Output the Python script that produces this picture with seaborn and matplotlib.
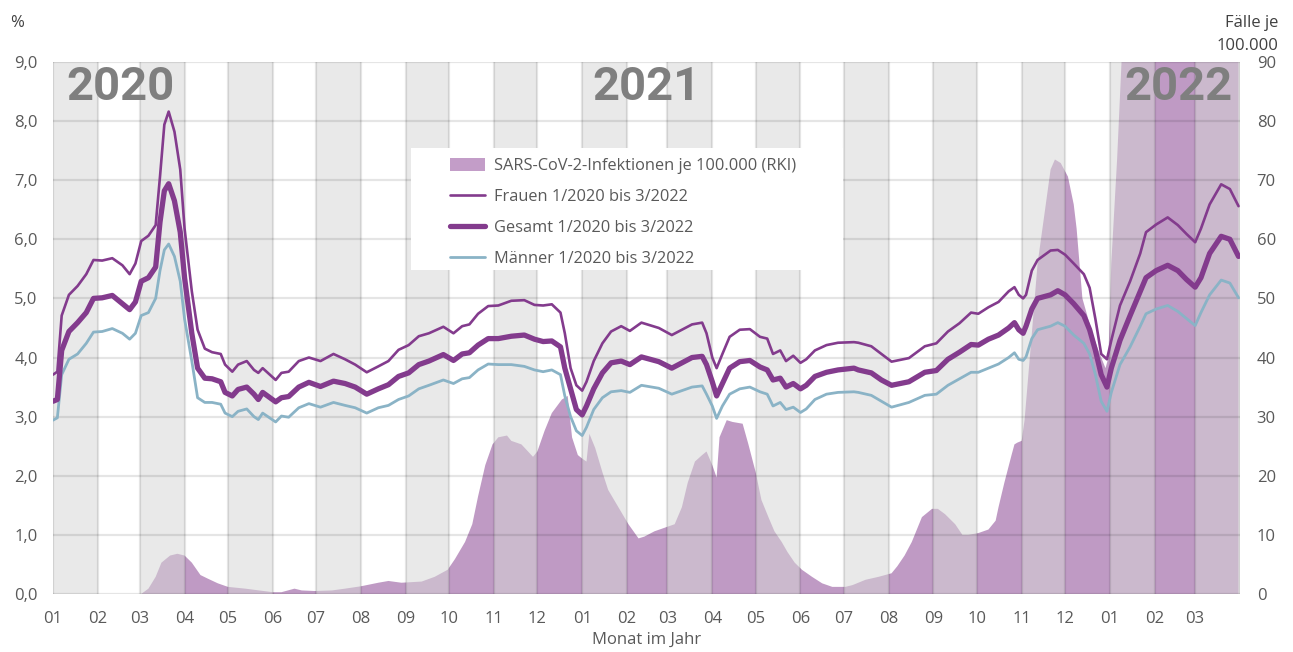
import numpy as np
import pandas as pd
import seaborn as sns
import matplotlib.pyplot as plt
from matplotlib.lines import Line2D
from matplotlib.patches import Patch, Rectangle

# Tage seit 01.01.2020, Anteil in %
tage = [0, 3, 6, 11, 17, 23, 28, 34, 41, 48, 53, 57, 61, 66, 71, 74, 77, 80, 84, 88,
        91, 96, 100, 105, 110, 116, 119, 124, 128, 134, 139, 142, 145, 154, 158, 163, 170, 177, 185, 194,
        202, 209, 217, 225, 232, 239, 246, 253, 260, 270, 277, 283, 288, 294, 301, 308, 317, 326, 333, 339,
        345, 351, 354, 358, 362, 366, 369, 374, 380, 386, 393, 399, 407, 419, 428, 435, 442, 449, 452, 456,
        459, 463, 468, 475, 482, 489, 494, 498, 503, 507, 512, 517, 521, 527, 535, 543, 554, 557, 566, 573,
        580, 592, 603, 611, 619, 627, 635, 640, 647, 654, 661, 665, 668, 671, 673, 677, 681, 690, 695, 700,
        706, 713, 717, 721, 725, 729, 732, 738, 745, 752, 756, 763, 771, 778, 784, 790, 794, 800, 808, 814, 820]

frauen = [3.71, 3.76, 4.71, 5.06, 5.21, 5.41, 5.65, 5.64, 5.68, 5.56, 5.41, 5.59, 5.97, 6.06, 6.24, 7.06, 7.94, 8.16, 7.82, 7.18,
          6.18, 5.12, 4.47, 4.15, 4.09, 4.06, 3.88, 3.76, 3.88, 3.94, 3.79, 3.74, 3.82, 3.62, 3.74, 3.76, 3.94, 4.00, 3.94, 4.06,
          3.97, 3.88, 3.75, 3.85, 3.94, 4.13, 4.21, 4.36, 4.41, 4.52, 4.41, 4.53, 4.56, 4.74, 4.87, 4.88, 4.96, 4.97, 4.89, 4.88,
          4.90, 4.76, 4.41, 3.82, 3.53, 3.44, 3.59, 3.94, 4.24, 4.44, 4.53, 4.45, 4.59, 4.50, 4.38, 4.47, 4.56, 4.59, 4.41, 4.00,
          3.82, 4.06, 4.35, 4.47, 4.48, 4.35, 4.32, 4.06, 4.12, 3.94, 4.03, 3.91, 3.97, 4.12, 4.21, 4.25, 4.26, 4.25, 4.19, 4.06,
          3.93, 3.99, 4.19, 4.24, 4.44, 4.58, 4.76, 4.74, 4.85, 4.94, 5.12, 5.19, 5.06, 5.00, 5.06, 5.47, 5.65, 5.81, 5.82, 5.74,
          5.59, 5.41, 5.18, 4.65, 4.06, 3.97, 4.29, 4.88, 5.29, 5.76, 6.12, 6.25, 6.37, 6.24, 6.09, 5.95, 6.18, 6.59, 6.93, 6.85, 6.56]

gesamt = [3.26, 3.29, 4.12, 4.44, 4.59, 4.76, 5.00, 5.01, 5.05, 4.91, 4.81, 4.94, 5.29, 5.35, 5.53, 6.29, 6.82, 6.94, 6.65, 6.12,
          5.35, 4.41, 3.82, 3.65, 3.64, 3.59, 3.41, 3.35, 3.46, 3.50, 3.38, 3.29, 3.41, 3.25, 3.32, 3.34, 3.50, 3.58, 3.51, 3.60,
          3.56, 3.50, 3.38, 3.47, 3.54, 3.68, 3.74, 3.88, 3.94, 4.05, 3.95, 4.06, 4.08, 4.21, 4.32, 4.32, 4.36, 4.38, 4.31, 4.27,
          4.28, 4.18, 3.82, 3.47, 3.12, 3.03, 3.18, 3.47, 3.74, 3.91, 3.94, 3.88, 4.01, 3.93, 3.82, 3.91, 4.00, 4.02, 3.88, 3.59,
          3.35, 3.56, 3.82, 3.93, 3.95, 3.84, 3.79, 3.62, 3.65, 3.50, 3.56, 3.47, 3.53, 3.68, 3.75, 3.79, 3.82, 3.79, 3.74, 3.62,
          3.53, 3.59, 3.75, 3.78, 3.97, 4.09, 4.22, 4.21, 4.31, 4.38, 4.50, 4.59, 4.47, 4.41, 4.53, 4.82, 5.00, 5.06, 5.13, 5.06,
          4.91, 4.71, 4.47, 4.12, 3.71, 3.50, 3.82, 4.29, 4.71, 5.12, 5.35, 5.47, 5.56, 5.47, 5.32, 5.19, 5.35, 5.76, 6.05, 6.00, 5.71]

maenner = [2.94, 2.98, 3.71, 3.97, 4.06, 4.24, 4.43, 4.44, 4.49, 4.41, 4.31, 4.41, 4.71, 4.76, 5.00, 5.47, 5.82, 5.92, 5.71, 5.29,
           4.65, 3.94, 3.32, 3.24, 3.24, 3.21, 3.06, 3.00, 3.09, 3.13, 3.00, 2.95, 3.06, 2.91, 3.01, 2.99, 3.15, 3.22, 3.16, 3.24,
           3.19, 3.15, 3.06, 3.15, 3.19, 3.29, 3.35, 3.47, 3.53, 3.62, 3.56, 3.64, 3.66, 3.79, 3.89, 3.88, 3.88, 3.85, 3.79, 3.76,
           3.79, 3.71, 3.35, 3.00, 2.76, 2.68, 2.82, 3.12, 3.32, 3.42, 3.44, 3.41, 3.53, 3.48, 3.38, 3.44, 3.50, 3.52, 3.38, 3.18,
           2.97, 3.18, 3.38, 3.47, 3.50, 3.42, 3.38, 3.18, 3.24, 3.12, 3.16, 3.07, 3.13, 3.29, 3.38, 3.41, 3.42, 3.41, 3.36, 3.26,
           3.16, 3.24, 3.36, 3.38, 3.53, 3.64, 3.75, 3.75, 3.82, 3.89, 4.00, 4.08, 3.97, 3.95, 4.01, 4.32, 4.47, 4.53, 4.59, 4.53,
           4.38, 4.24, 4.06, 3.71, 3.26, 3.09, 3.41, 3.88, 4.18, 4.53, 4.74, 4.82, 4.88, 4.78, 4.66, 4.54, 4.76, 5.06, 5.31, 5.26, 5.01]

# SARS-CoV-2-Infektionen je 100.000 (RKI)
tage_rki = [0, 55, 61, 66, 71, 75, 81, 86, 91, 96, 102, 107, 114, 121, 133, 152, 158, 167, 172, 181,
            193, 202, 213, 225, 232, 241, 255, 264, 273, 278, 285, 290, 294, 299, 304, 308, 314, 317, 324, 332,
            335, 340, 345, 352, 356, 359, 363, 366, 369, 371, 375, 380, 384, 391, 398, 405, 409, 416, 423, 430,
            435, 439, 444, 449, 452, 456, 459, 461, 466, 470, 477, 481, 486, 490, 495, 499, 504, 508, 513, 518,
            525, 532, 539, 548, 553, 562, 571, 580, 584, 589, 594, 598, 601, 608, 612, 617, 624, 629, 633, 640,
            647, 652, 654, 658, 663, 665, 667, 670, 672, 677, 681, 686, 690, 693, 697, 702, 706, 708, 710, 712,
            719, 724, 728, 730, 732, 736, 740, 745, 755, 770, 785, 800, 815, 820]
faelle = [0, 0, 0, 0.9, 2.9, 5.3, 6.5, 6.8, 6.5, 5.3, 3.2, 2.6, 1.8, 1.2, 0.9, 0.3, 0.3, 0.9, 0.6, 0.5,
          0.6, 0.9, 1.3, 1.9, 2.2, 1.9, 2.1, 2.9, 4.1, 5.9, 8.8, 11.8, 16.5, 21.8, 25.3, 26.5, 26.8, 25.9, 25.3, 23.2,
          24.1, 27.6, 30.6, 32.9, 33.5, 26.5, 23.5, 22.9, 22.4, 27.1, 24.7, 20.6, 17.6, 14.7, 11.8, 9.4, 9.7, 10.6, 11.2, 11.8,
          14.7, 18.8, 22.4, 23.5, 24.1, 21.8, 19.7, 26.5, 29.4, 29.1, 28.8, 25.3, 20.6, 15.9, 12.9, 10.6, 8.8, 7.1, 5.3, 4.1,
          2.9, 1.8, 1.2, 1.2, 1.5, 2.4, 2.9, 3.5, 4.7, 6.5, 8.8, 11.2, 13.0, 14.4, 14.4, 13.5, 11.8, 10.0, 10.0, 10.3,
          10.9, 12.4, 14.7, 18.8, 23.5, 25.3, 25.6, 25.9, 29.4, 44.0, 55.9, 64.7, 71.8, 73.5, 72.9, 70.6, 65.9, 61.8, 55.9, 50.0,
          44.0, 40.6, 38.2, 40.0, 56.0, 73.5, 95.0, 120.0, 150.0, 180.0, 205.0, 195.0, 215.0, 210.0]

monate = ["01", "02", "03", "04", "05", "06", "07", "08", "09", "10", "11", "12",
          "01", "02", "03", "04", "05", "06", "07", "08", "09", "10", "11", "12",
          "01", "02", "03", ""]

start = pd.Timestamp("2020-01-01")
df = pd.DataFrame({"Datum": start + pd.to_timedelta(tage, unit="D"),
                   "Frauen": frauen, "Gesamt": gesamt, "Männer": maenner})
rki = pd.DataFrame({"Datum": start + pd.to_timedelta(tage_rki, unit="D"), "Faelle": faelle})
monatsanfang = pd.date_range("2020-01-01", "2022-04-01", freq="MS")

sns.set_style("white")
plt.rcParams["font.family"] = ["Open Sans", "DejaVu Sans"]

lila = "#833b8d"
tuerkis = "#8ab3c6"
grau = "#595959"

fig = plt.figure(figsize=(12.93, 6.52), dpi=100)
ax2 = fig.add_axes([0.041, 0.089, 0.918, 0.816])
ax = ax2.twinx()
ax.set_zorder(ax2.get_zorder() + 1)
ax.patch.set_visible(False)

# Fläche + Monatsbänder (Bänder halbtransparent darüber)
ax2.fill_between(rki["Datum"], rki["Faelle"], color="#bf9ac4", lw=0, zorder=1)
for i in range(0, len(monatsanfang) - 1, 2):
    ax2.axvspan(monatsanfang[i], monatsanfang[i + 1], color="#d6d6d6", alpha=0.53, lw=0, zorder=2)

ax2.set_ylim(0, 90)
ax2.set_yticks(range(0, 91, 10))
ax2.set_xlim(monatsanfang[0], monatsanfang[-1])
ax2.set_xticks(monatsanfang)
ax2.set_xticklabels(monate)
ax2.set_axisbelow(False)
ax2.grid(True, color="black", alpha=0.1, lw=1.6)
ax2.yaxis.tick_right()
ax2.tick_params(axis="y", length=0, pad=12, labelsize=12, colors=grau)
ax2.tick_params(axis="x", length=4, width=1, color="#cccccc", pad=8, labelsize=12, labelcolor=grau)

# Linien
sns.lineplot(data=df, x="Datum", y="Männer", ax=ax, color=tuerkis, lw=2.0, zorder=3)
sns.lineplot(data=df, x="Datum", y="Gesamt", ax=ax, color=lila, lw=3.8, zorder=4)
sns.lineplot(data=df, x="Datum", y="Frauen", ax=ax, color=lila, lw=1.9, zorder=5)
for ln in ax.get_lines():
    ln.set_solid_joinstyle("round")

ax.set_ylim(0, 9)
ax.set_yticks(np.arange(0, 9.1, 1))
ax.set_yticklabels([f"{v:.1f}".replace(".", ",") for v in np.arange(0, 9.1, 1)])
ax.yaxis.tick_left()
ax.tick_params(axis="y", length=0, pad=11, labelsize=12, colors=grau)
ax.set_xlim(monatsanfang[0], monatsanfang[-1])
ax.set_ylabel("")
ax.set_xlabel("")
for a in (ax, ax2):
    for s in a.spines.values():
        s.set_visible(False)

ax2.set_xlabel("Monat im Jahr", fontsize=12, color=grau, labelpad=4)

# Jahreszahlen
jahr_kw = dict(transform=ax.transAxes, fontsize=34, fontweight="bold", color="#7f7f7f",
               va="top", zorder=6, family="Roboto")
ax.text(0.011, 0.995, "2020", ha="left", **jahr_kw)
ax.text(0.4996, 0.995, "2021", ha="center", **jahr_kw)
ax.text(0.994, 0.995, "2022", ha="right", **jahr_kw)

fig.text(0.008, 0.965, "%", fontsize=12, color="#404040", va="center")
fig.text(0.989, 0.965, "Fälle je", fontsize=12, color="#404040", va="center", ha="right")
fig.text(0.989, 0.93, "100.000", fontsize=12, color="#404040", va="center", ha="right")

# weißer Legendenkasten
ax.add_patch(Rectangle((0.3016, 0.609), 0.364, 0.229, transform=ax.transAxes,
                       facecolor="white", edgecolor="none", zorder=9))
handles = [Patch(facecolor="#c39dc8", edgecolor="none"),
           Line2D([], [], color=lila, lw=1.9),
           Line2D([], [], color=lila, lw=3.8),
           Line2D([], [], color=tuerkis, lw=2.0)]
labels = ["SARS-CoV-2-Infektionen je 100.000 (RKI)", "Frauen 1/2020 bis 3/2022",
          "Gesamt 1/2020 bis 3/2022", "Männer 1/2020 bis 3/2022"]
leg = ax.legend(handles, labels, loc="upper left", bbox_to_anchor=(0.3345, 0.82),
                frameon=False, fontsize=11.8, labelcolor=grau, handlelength=2.15,
                handleheight=0.9, handletextpad=0.55, labelspacing=0.88,
                borderpad=0, borderaxespad=0)
leg.set_zorder(10)

plt.savefig("out.png", dpi=100)
